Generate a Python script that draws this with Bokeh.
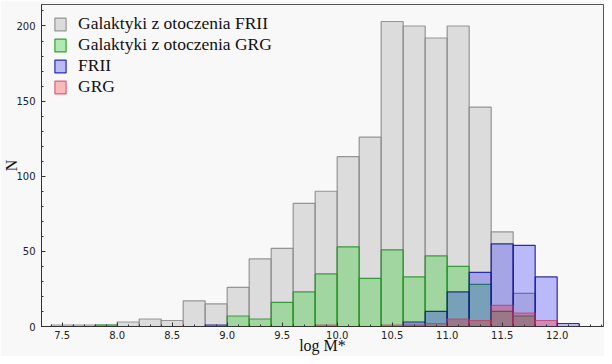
from bokeh.plotting import figure
from bokeh.models import (Range1d, Legend, LegendItem,
                          SingleIntervalTicker, NumeralTickFormatter)
from bokeh.embed import file_html
from bokeh.resources import INLINE

# ---- data (counts per 0.2-wide bin of log M*) ----
bin_edges = [7.4, 7.6, 7.8, 8.0, 8.2, 8.4, 8.6, 8.8, 9.0, 9.2, 9.4, 9.6, 9.8,
             10.0, 10.2, 10.4, 10.6, 10.8, 11.0, 11.2, 11.4, 11.6, 11.8, 12.0, 12.2]
env_frii = [1, 1, 1, 3, 5, 4, 17, 15, 26, 45, 52, 82, 90,
            113, 126, 203, 200, 192, 200, 146, 63, 22, 0, 0]
env_grg = [0, 0, 1, 0, 0, 0, 0, 0, 7, 5, 16, 23, 35,
           53, 32, 51, 33, 47, 40, 28, 10, 7, 0, 0]
frii = [0, 0, 0, 0, 0, 0, 0, 1, 0, 0, 0, 0, 0,
        0, 0, 0, 3, 10, 23, 36, 55, 54, 33, 2]
grg = [0, 0, 0, 0, 0, 0, 0, 0, 0, 0, 0, 0, 1,
       0, 0, 1, 1, 2, 5, 4, 14, 9, 4, 0]
labels = ["Galaktyki z otoczenia FRII", "Galaktyki z otoczenia GRG", "FRII", "GRG"]
x_title = "log M*"
y_title = "N"

left = bin_edges[:-1]
right = bin_edges[1:]

BG = "#f8f8f8"
p = figure(width=604, height=356, output_backend="svg", toolbar_location=None,
           x_range=Range1d(7.312, 12.421), y_range=Range1d(0, 214.3),
           min_border_left=40, min_border_right=1, min_border_top=4,
           min_border_bottom=29)
p.background_fill_color = BG
p.border_fill_color = BG
p.outline_line_color = "#555555"
p.outline_line_width = 1
p.xgrid.visible = False
p.ygrid.visible = False

styles = [
    dict(fill_color="#c0c0c0", fill_alpha=0.5, line_color="#8c8c8c", line_alpha=0.9),
    dict(fill_color="#33cc33", fill_alpha=0.35, line_color="#229922", line_alpha=0.9),
    dict(fill_color="#0000ff", fill_alpha=0.25, line_color="#1a1aa0", line_alpha=0.9),
    dict(fill_color="#ff0000", fill_alpha=0.25, line_color="#d03050", line_alpha=0.7),
]
renderers = []
for series, st in zip([env_frii, env_grg, frii, grg], styles):
    r = p.quad(left=left, right=right, bottom=0, top=series, line_width=1.2, **st)
    renderers.append(r)

legend = Legend(items=[LegendItem(label=l, renderers=[r]) for l, r in zip(labels, renderers)],
                location=(12, 229), margin=0, padding=0, spacing=0,
                glyph_width=14, glyph_height=16, label_standoff=11,
                label_text_font="Liberation Serif", label_text_font_size="17.5px",
                label_text_color="#111111",
                background_fill_alpha=0, border_line_alpha=0)
p.add_layout(legend, "center")

p.xaxis.ticker = SingleIntervalTicker(interval=0.5, num_minor_ticks=5)
p.yaxis.ticker = SingleIntervalTicker(interval=50, num_minor_ticks=5)
p.xaxis.formatter = NumeralTickFormatter(format="0.0")
p.yaxis.formatter = NumeralTickFormatter(format="0")

for ax in (p.xaxis, p.yaxis):
    ax.axis_line_color = "#333333"
    ax.major_tick_line_color = "#333333"
    ax.minor_tick_line_color = "#333333"
    ax.major_tick_in = 4
    ax.major_tick_out = 0
    ax.minor_tick_in = 2
    ax.minor_tick_out = 0
    ax.major_label_text_font = "DejaVu Sans"
    ax.major_label_text_font_size = "10px"
    ax.major_label_text_color = "#222222"
    ax.axis_label_text_font = "Liberation Serif"
    ax.axis_label_text_font_size = "16px"
    ax.axis_label_text_font_style = "normal"
    ax.axis_label_text_color = "#111111"
p.xaxis.major_label_standoff = 4
p.yaxis.major_label_standoff = 6
p.xaxis.axis_label = x_title
p.yaxis.axis_label = y_title
p.xaxis.axis_label_standoff = -5
p.yaxis.axis_label_standoff = -7

open("out.html", "w").write(file_html(p, INLINE))
